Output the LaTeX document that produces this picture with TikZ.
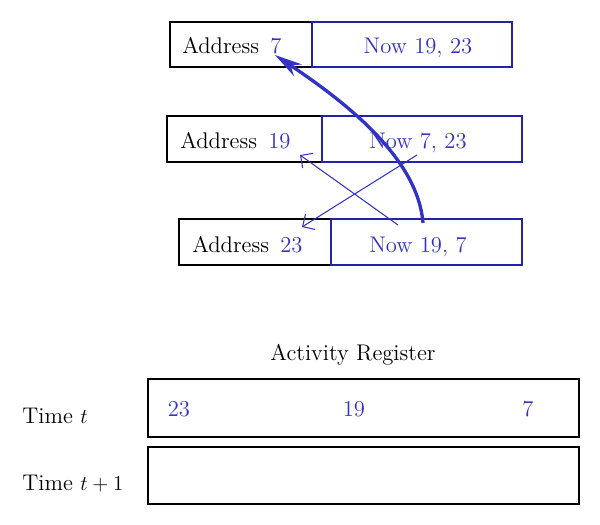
\documentclass[tikz,border=0pt]{standalone}
\usetikzlibrary{arrows.meta}
\definecolor{numblue}{RGB}{50,50,195}
\definecolor{boxblue}{RGB}{35,35,165}
\newcommand{\nb}[1]{\textcolor{numblue}{#1}}
\begin{document}
\begin{tikzpicture}[x=0.02cm,y=-0.02cm,
    every node/.style={font=\fontsize{12.9}{15}\selectfont,inner sep=0pt},
    addr/.style={draw=black,line width=0.8pt},
    cell/.style={draw=boxblue,line width=1pt},
    thin/.style={numblue,line width=0.6pt,-{Straight Barb[length=1.8mm,width=3.6mm]}},
    thick/.style={numblue,line width=1.9pt,-{Stealth[length=5.5mm,width=2.8mm]}}]
    \useasboundingbox (0,0) rectangle (600,525);
    % memory cells
    \draw[addr] (170,22) rectangle (312,67);
    \draw[cell] (312,22) rectangle (512,67);
    \draw[addr] (167,116) rectangle (322,162);
    \draw[cell] (322,116) rectangle (522,162);
    \draw[addr] (179,219) rectangle (331,265);
    \draw[cell] (331,219) rectangle (522,265);
    \node[anchor=base west] (a7) at (182,53) {Address\hspace{0.5em}\nb{7}};
    \node[anchor=base,text=numblue] (n7) at (418,53) {Now 19, 23};
    \node[anchor=base west] (a19) at (180,148) {Address\hspace{0.5em}\nb{19}};
    \node[anchor=base,text=numblue] (n19) at (418,148) {Now 7, 23};
    \node[anchor=base west] (a23) at (192,252) {Address\hspace{0.5em}\nb{23}};
    \node[anchor=base,text=numblue] (n23) at (418,252) {Now 19, 7};
    % links
    \coordinate (s19) at (398,225);
    \coordinate (e19) at (300,155);
    \coordinate (s23) at (417,155);
    \coordinate (e23) at (302,227);
    \coordinate (s7) at (423,223);
    \coordinate (e7) at (275,55);
    \draw[thin] (s19) -- (e19);
    \draw[thin] (s23) -- (e23);
    \draw[thick] (s7) .. controls (418,160) and (350,105) .. (e7);
    % activity register
    \node[anchor=base] (reg) at (353,360) {Activity Register};
    \draw[addr] (148,379) rectangle (579,437);
    \draw[addr] (148,447) rectangle (579,504);
    \node[anchor=base west] (tt) at (22,423) {Time $t$};
    \node[anchor=base west] (tt1) at (22,490) {Time $t+1$};
    \node[anchor=base,text=numblue] (r23) at (179,416) {23};
    \node[anchor=base,text=numblue] (r19) at (354,416) {19};
    \node[anchor=base,text=numblue] (r7) at (528,416) {7};
\end{tikzpicture}
\end{document}
